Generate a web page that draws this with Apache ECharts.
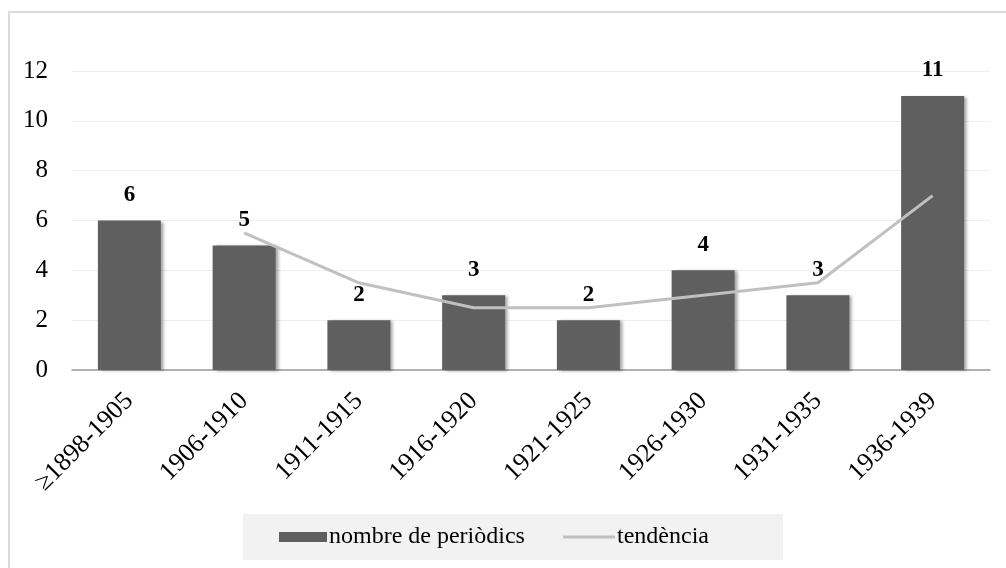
<!DOCTYPE html>
<html>
<head>
<meta charset="utf-8">
<script src="https://cdn.jsdelivr.net/npm/echarts@6/dist/echarts.min.js"></script>
<style>
html,body{margin:0;padding:0;background:#fff;}
#chart{width:1006px;height:568px;}
</style>
</head>
<body>
<div id="chart"></div>
<script>
const categories = ['≥1898-1905','1906-1910','1911-1915','1916-1920','1921-1925','1926-1930','1931-1935','1936-1939'];
const periodics = [6,5,2,3,2,4,3,11];
const tendencia = [null,5.5,3.5,2.5,2.5,3,3.5,7];
const yTicks = {min:0, max:12, interval:2};
const seriesNames = ['nombre de periòdics','tendència'];

const FONT = '"Liberation Serif","Times New Roman",serif';
const legendText = {fontFamily:FONT,fontSize:24,color:'#000',padding:[0,0,0,-3]};
const chart = echarts.init(document.getElementById('chart'));
chart.setOption({
  animation:false,
  backgroundColor:'#fff',
  graphic:[
    {type:'rect', z:-10, shape:{x:9,y:12,width:1010,height:600}, style:{fill:'#fff',stroke:'#d9d9d9',lineWidth:2}},
    {type:'rect', z:-5, shape:{x:243,y:514,width:540,height:46}, style:{fill:'#f2f2f2'}}
  ],
  grid:{left:72,right:16,top:71,bottom:198,containLabel:false},
  legend:[
    {
      left:279, top:525, padding:0, itemWidth:48, itemHeight:10,
      textStyle:legendText,
      data:[{name:seriesNames[0],icon:'rect'}]
    },
    {
      left:563, top:525, padding:0, itemWidth:52, itemHeight:3,
      textStyle:legendText,
      data:[{name:seriesNames[1],icon:'rect'}]
    }
  ],
  xAxis:{
    type:'category', data:categories,
    axisLine:{lineStyle:{color:'#9a9a9a',width:1.5}},
    axisTick:{show:false},
    axisLabel:{rotate:45,margin:27,fontFamily:FONT,fontSize:26,color:'#000',interval:0}
  },
  yAxis:{
    type:'value', min:yTicks.min, max:yTicks.max, interval:yTicks.interval,
    axisLine:{show:false}, axisTick:{show:false},
    splitLine:{lineStyle:{color:'#efefef',width:1}},
    axisLabel:{margin:24,fontFamily:FONT,fontSize:25,color:'#000'}
  },
  series:[
    {
      name:seriesNames[0], type:'bar', data:periodics, barWidth:63,
      itemStyle:{color:'#5f5f5f',shadowColor:'rgba(0,0,0,0.35)',shadowBlur:3,shadowOffsetX:3,shadowOffsetY:1},
      label:{show:true,position:'top',distance:14,fontFamily:FONT,fontWeight:'bold',fontSize:23,color:'#000'}
    },
    {
      name:seriesNames[1], type:'line', data:tendencia, symbol:'none', connectNulls:false,
      lineStyle:{color:'#c0c0c0',width:3}, itemStyle:{color:'#c0c0c0'}, z:3
    }
  ]
});
</script>
</body>
</html>
